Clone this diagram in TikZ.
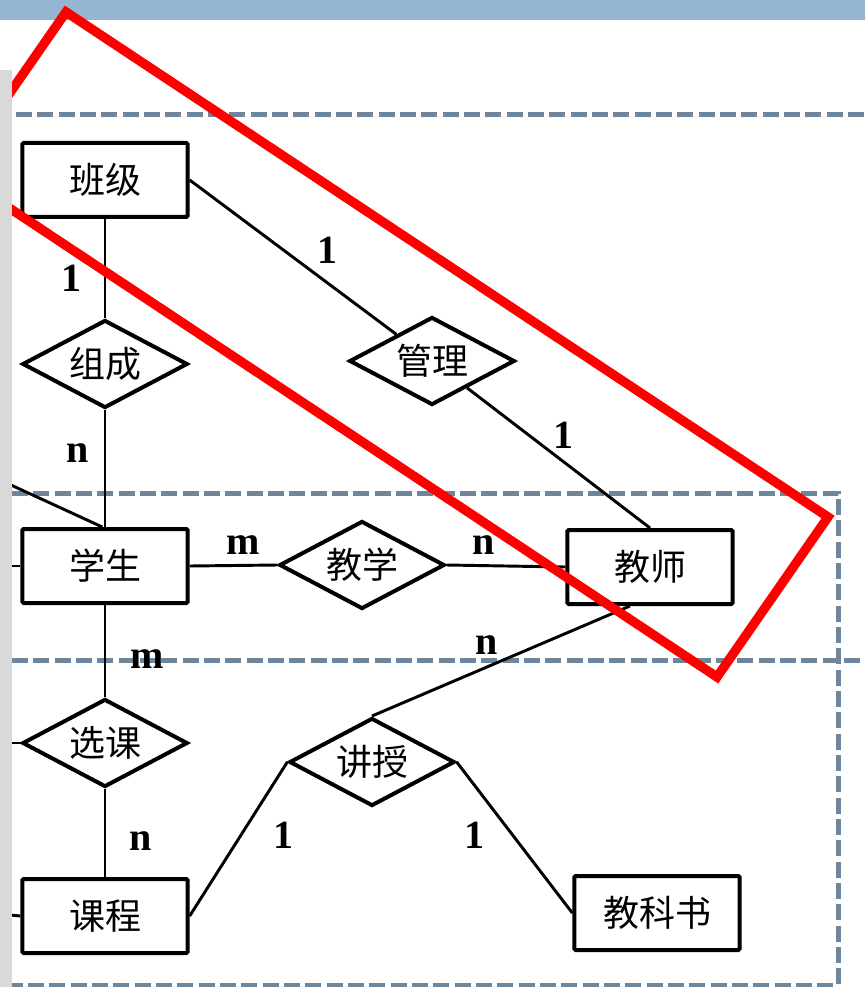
\documentclass[tikz,border=0pt]{standalone}
\usepackage{fontspec}
\setmainfont{Liberation Serif}
\newfontfamily\cjk{Noto Sans CJK SC}
\usetikzlibrary{shapes.geometric,calc}
\definecolor{barblue}{RGB}{148,182,210}
\definecolor{dashgrey}{RGB}{110,134,155}
\definecolor{stripgrey}{RGB}{217,217,217}
\begin{document}
\begin{tikzpicture}[x=0.75pt,y=-0.75pt,
  dashline/.style={draw=dashgrey,line width=3.75pt,dash pattern=on 12pt off 4pt},
  ent/.style={draw,line width=3pt,minimum width=124pt,minimum height=55.5pt,inner sep=0pt,rounded corners=1pt,fill=white,font=\cjk\fontsize{27}{27}\selectfont},
  rel/.style={diamond,shape aspect=1.9,draw,line width=3pt,minimum width=124pt,minimum height=66pt,inner sep=0pt,fill=white,font=\cjk\fontsize{27}{27}\selectfont},
  conn/.style={line width=2.2pt},
  card/.style={inner sep=0pt,font=\bfseries\fontsize{30}{30}\selectfont},
  redbox/.style={draw=red,line width=7pt,line join=miter}]
\useasboundingbox (0,0) rectangle (865,987);
\fill[barblue] (0,0) rectangle (865,20);
% dashed frames
\draw[dashline] (16,115) -- (865,115);
\draw[dashline] (12,493) -- (838,493) -- (838,985) -- (12,985);
\draw[dashline] (12,660) -- (865,660);
% entities
\node[ent] (banji) at (105,180) {班级};
\node[ent] (xuesheng) at (105,566) {学生};
\node[ent] (kecheng) at (105,916) {课程};
\node[ent] (jiaoshi) at (650,567) {教师};
\node[ent] (jiaokeshu) at (657,913) {教科书};
% relations
\node[rel] (zucheng) at (105,364) {组成};
\node[rel] (guanli) at (432,361) {管理};
\node[rel] (jiaoxue) at (362,565) {教学};
\node[rel] (xuanke) at (105,743) {选课};
\node[rel] (jiangshou) at (372,762) {讲授};
% free ends at left
\coordinate (l1) at (0,480);
\coordinate (l2) at (0,566);
\coordinate (l3) at (0,743);
\coordinate (l4) at (0,914);
% connectors
\draw[conn] (banji) -- (zucheng);
\draw[conn] (zucheng) -- (xuesheng);
\draw[conn] (banji.east) -- (guanli);
\draw[conn] (guanli) -- (jiaoshi.north);
\draw[conn] (xuesheng.east) -- (jiaoxue.west);
\draw[conn] (jiaoxue.east) -- (jiaoshi.west);
\draw[conn] (xuesheng) -- (xuanke);
\draw[conn] (xuanke) -- (kecheng);
\draw[conn] (kecheng.east) -- (jiangshou.west);
\draw[conn] (jiangshou.east) -- (jiaokeshu.west);
\draw[conn] ([xshift=-15pt]jiaoshi.south) -- (jiangshou.north);
\draw[conn] (l1) -- ([xshift=-2pt]xuesheng.north);
\draw[conn] (l2) -- (xuesheng.west);
\draw[conn] (l3) -- (xuanke.west);
\draw[conn] (l4) -- (kecheng.west);
% cardinalities
\node[card] (c1) at (71,278) {1};
\node[card] (c2) at (78,453) {n};
\node[card] (c3) at (327,250) {1};
\node[card] (c4) at (563,435) {1};
\node[card] (c5) at (243,545) {m};
\node[card] (c6) at (484,545) {n};
\node[card] (c7) at (147,659) {m};
\node[card] (c8) at (141,841) {n};
\node[card] (c9) at (283,835) {1};
\node[card] (c10) at (474,835) {1};
\node[card] (c11) at (487,645) {n};
% red highlight
\draw[redbox] (66,12) -- (828,517) -- (717,677) -- (-45,172) -- cycle;
% grey strip
\fill[stripgrey] (0,70) rectangle (12,987);
\end{tikzpicture}
\end{document}
